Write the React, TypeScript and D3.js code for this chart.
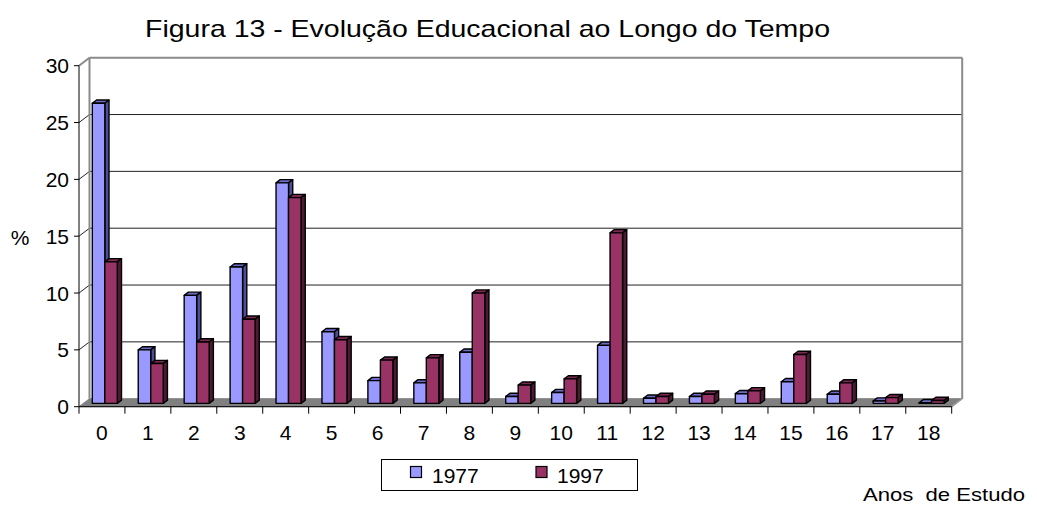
import React from "react";
import * as d3 from "d3";

const categories = ["0","1","2","3","4","5","6","7","8","9","10","11","12","13","14","15","16","17","18"];
const series1977 = [26.4, 4.7, 9.5, 12.0, 19.4, 6.3, 2.0, 1.8, 4.5, 0.6, 0.95, 5.1, 0.45, 0.6, 0.85, 1.9, 0.8, 0.2, 0.05];
const series1997 = [12.45, 3.5, 5.4, 7.4, 18.1, 5.6, 3.8, 4.0, 9.7, 1.6, 2.15, 15.0, 0.6, 0.8, 1.1, 4.3, 1.8, 0.5, 0.25];
const yTicks = [0, 5, 10, 15, 20, 25, 30];
const seriesNames = ["1977", "1997"];

const W = 1037, H = 506;
const FONT = "'Liberation Sans', Arial, sans-serif";
const DX = 10.5, DY = -8; // full depth of the plot
const X0 = 79, X1 = 951.7, Y0 = 406.7, Y30 = 65.7;

const colors = [
  { front: "#9999FF", top: "#6B6BC8", side: "#4D4D99" },
  { front: "#993366", top: "#7A2952", side: "#4D1A33" },
];

export default function App() {
  const x = d3.scaleBand<string>().domain(categories).range([X0, X1]).padding(0);
  const y = d3.scaleLinear().domain([0, 30]).range([Y0, Y30]);
  const bw = x.bandwidth();
  const fb = 0.42, fd = 0.4;
  const bdx = fb * DX, bdy = fb * DY;
  const ddx = fd * DX, ddy = fd * DY;
  const barW = 12.5;
  const barOff = 8.9;
  const pts = (a: number[][]) => a.map((p) => p.join(",")).join(" ");

  const bars: React.ReactNode[] = [];
  categories.forEach((c, i) => {
    [series1977, series1997].forEach((s, k) => {
      const v = s[i];
      const xl = (x(c) as number) + barOff + k * barW + bdx;
      const xr = xl + barW;
      const yb = y(0) + bdy;
      const yt = y(v) + bdy;
      const col = colors[k];
      bars.push(
        <g key={`${i}-${k}`} stroke="#000" strokeWidth={1.4} strokeLinejoin="round">
          <polygon points={pts([[xl, yt], [xr, yt], [xr + ddx, yt + ddy], [xl + ddx, yt + ddy]])} fill={col.top} />
          <polygon points={pts([[xr, yt], [xr + ddx, yt + ddy], [xr + ddx, yb + ddy], [xr, yb]])} fill={col.side} />
          <rect x={xl} y={yt} width={barW} height={yb - yt} fill={col.front} />
        </g>
      );
    });
  });

  return (
    <svg width={W} height={H} style={{ display: "block", position: "absolute", left: 0, top: 0 }} fontFamily={FONT}>
      <rect x={0} y={0} width={W} height={H} fill="#fff" />
      <text x={145} y={37} fontSize={24} fill="#000" textLength={685} lengthAdjust="spacingAndGlyphs">
        Figura 13 - Evolução Educacional ao Longo do Tempo
      </text>
      {/* walls */}
      <polygon points={pts([[X0, Y0], [X0 + DX, Y0 + DY], [X0 + DX, Y30 + DY], [X0, Y30]])} fill="#fff" />
      {/* gridlines */}
      {yTicks.slice(1, -1).map((t) => (
        <g key={t} stroke="#222" strokeWidth={1}>
          <line x1={X0} y1={y(t)} x2={X0 + DX} y2={y(t) + DY} />
          <line x1={X0 + DX} y1={y(t) + DY} x2={X1 + DX} y2={y(t) + DY} />
        </g>
      ))}
      <g stroke="#8a8a8a" strokeWidth={2} fill="none">
        <line x1={X0} y1={Y30} x2={X0 + DX} y2={Y30 + DY} />
        <line x1={X0 + DX} y1={Y30 + DY} x2={X1 + DX} y2={Y30 + DY} />
        <line x1={X1 + DX} y1={Y30 + DY} x2={X1 + DX} y2={Y0 + DY} />
        <line x1={X0 + DX} y1={Y30 + DY} x2={X0 + DX} y2={Y0 + DY} />
      </g>
      {/* floor */}
      <polygon points={pts([[X0, Y0], [X1, Y0], [X1 + DX, Y0 + DY], [X0 + DX, Y0 + DY]])} fill="#808080" stroke="#808080" strokeWidth={1} />
      <line x1={X1} y1={Y0} x2={X1 + DX} y2={Y0 + DY} stroke="#9a9a9a" strokeWidth={1.5} />
      {bars}
      {/* y axis */}
      <line x1={X0} y1={Y30} x2={X0} y2={Y0} stroke="#000" strokeWidth={1} />
      {yTicks.map((t) => (
        <g key={t}>
          <line x1={X0 - 5} y1={y(t)} x2={X0} y2={y(t)} stroke="#000" />
          <text x={69} y={y(t) + 7.5} textAnchor="end" fontSize={21} fill="#000">{t}</text>
        </g>
      ))}
      {/* x axis */}
      <line x1={X0} y1={Y0} x2={X1} y2={Y0} stroke="#000" strokeWidth={1} />
      {categories.map((c) => (
        <g key={c}>
          <line x1={x(c) as number} y1={Y0} x2={x(c) as number} y2={Y0 + 7} stroke="#000" />
          <text x={(x(c) as number) + bw / 2} y={440} textAnchor="middle" fontSize={21} fill="#000">{c}</text>
        </g>
      ))}
      <line x1={X1} y1={Y0} x2={X1} y2={Y0 + 7} stroke="#000" />
      <text x={20} y={245} textAnchor="middle" fontSize={21} fill="#000">%</text>
      {/* legend */}
      <rect x={381.5} y={459.5} width={256} height={31} fill="#fff" stroke="#000" strokeWidth={1} />
      {seriesNames.map((n, k) => (
        <g key={n}>
          <rect x={410.5 + k * 125.5} y={466.5} width={11} height={11} fill={colors[k].front} stroke="#000" strokeWidth={1.2} />
          <text x={432 + k * 125} y={483} fontSize={21} fill="#000">{n}</text>
        </g>
      ))}
      <text x={863} y={501} fontSize={19} fill="#000" textLength={162} lengthAdjust="spacingAndGlyphs" style={{ whiteSpace: "pre" }}>{"Anos  de Estudo"}</text>
    </svg>
  );
}
